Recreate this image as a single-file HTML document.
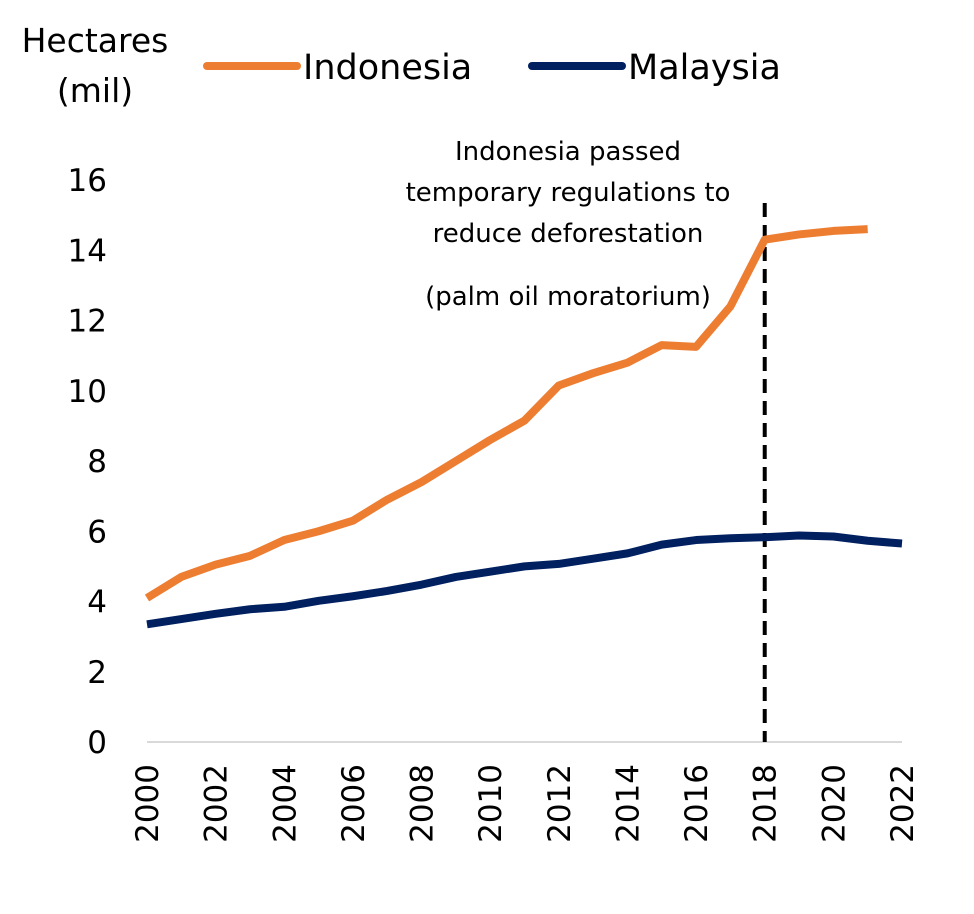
<!DOCTYPE html>
<html><head><meta charset="utf-8"><style>
body{margin:0;background:#fff;}
svg text{font-family:"DejaVu Sans","Liberation Sans",sans-serif;fill:#000;}
</style></head><body>
<svg id="chart" width="974" height="909">
<text x="95" y="52" font-size="33" text-anchor="middle">Hectares</text>
<text x="95" y="102" font-size="33" text-anchor="middle">(mil)</text>
<g>
<line x1="207" y1="66" x2="297" y2="66" stroke="#ED7D31" stroke-width="8" stroke-linecap="round"/>
<text x="303" y="79" font-size="35">Indonesia</text>
<line x1="532" y1="66" x2="622" y2="66" stroke="#002060" stroke-width="8" stroke-linecap="round"/>
<text x="628" y="79" font-size="35">Malaysia</text>
</g>
<g id="axes"></g>
<g id="series"></g>
<g font-size="26">
<text x="568" y="160" text-anchor="middle">Indonesia passed</text>
<text x="568" y="201" text-anchor="middle">temporary regulations to</text>
<text x="568" y="242" text-anchor="middle">reduce deforestation</text>
<text x="568" y="305" text-anchor="middle">(palm oil moratorium)</text>
</g>
</svg>
<script>
const years=[2000,2001,2002,2003,2004,2005,2006,2007,2008,2009,2010,2011,2012,2013,2014,2015,2016,2017,2018,2019,2020,2021,2022];
const indonesia=[4.1,4.7,5.05,5.3,5.75,6.0,6.3,6.9,7.4,8.0,8.6,9.15,10.15,10.5,10.8,11.3,11.25,12.4,14.3,14.45,14.55,14.6,null];
const malaysia=[3.35,3.5,3.65,3.78,3.85,4.02,4.15,4.3,4.48,4.7,4.85,5.0,5.07,5.22,5.37,5.62,5.75,5.8,5.83,5.88,5.85,5.73,5.65];
const yTicks=[0,2,4,6,8,10,12,14,16];
const xTickYears=[2000,2002,2004,2006,2008,2010,2012,2014,2016,2018,2020,2022];
const markerYear=2018;
const NS="http://www.w3.org/2000/svg";
const X=y=>147+(y-2000)*(902-147)/22;
const Y=v=>742-v*(742-180)/16;
const axes=document.getElementById('axes'),series=document.getElementById('series');
function mk(tag,attrs,parent){const e=document.createElementNS(NS,tag);for(const k in attrs)e.setAttribute(k,attrs[k]);parent.appendChild(e);return e;}
const ax=mk('line',{x1:147,y1:Y(0),x2:902,y2:Y(0),stroke:'#d9d9d9','stroke-width':2},axes);


yTicks.forEach(t=>{const e=mk('text',{x:107,y:Y(t)+11,'font-size':31,'text-anchor':'end'},axes);e.textContent=t;

});
xTickYears.forEach(yr=>{const e=mk('text',{transform:`translate(${X(yr)+11},${Y(0)+22}) rotate(-90)`,'font-size':31,'text-anchor':'end'},axes);e.textContent=yr;

});
const vl=mk('line',{x1:X(markerYear),y1:203,x2:X(markerYear),y2:Y(0),stroke:'#000','stroke-width':4,'stroke-dasharray':'14,8'},series);


function path(vals,color,name){let d='';vals.forEach((v,i)=>{if(v==null)return;d+=(d?'L':'M')+X(years[i])+','+Y(v);});
const p=mk('path',{d:d,fill:'none',stroke:color,'stroke-width':8,'stroke-linejoin':'round'},series);

}
path(indonesia,'#ED7D31','indonesia-line');
path(malaysia,'#002060','malaysia-line');
</script>
</body></html>
